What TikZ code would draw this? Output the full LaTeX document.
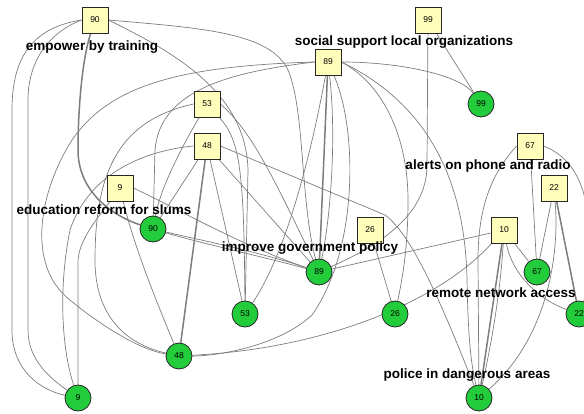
\documentclass[tikz,border=0pt]{standalone}
\usepackage{fontspec}
\setmainfont{Liberation Sans}
\definecolor{sqfill}{RGB}{255,255,187}
\definecolor{cifill}{RGB}{34,204,58}
\definecolor{edgec}{RGB}{125,125,125}
\pgfdeclarelayer{bg}\pgfsetlayers{bg,main}
\begin{document}
\begin{tikzpicture}[x=1pt,y=-1pt,
  sq/.style={draw=black!85, line width=0.8pt, fill=sqfill, minimum size=26pt, inner sep=0pt, font=\fontsize{8.5}{10}\selectfont},
  ci/.style={circle, draw=black!85, line width=0.8pt, fill=cifill, minimum size=26pt, inner sep=0pt, font=\fontsize{8.5}{10}\selectfont},
  lab/.style={font=\bfseries\fontsize{13.5}{15}\selectfont, inner sep=0pt},
  ed/.style={draw=edgec, line width=0.7pt},
  thk/.style={draw=edgec, line width=1.5pt}]
\useasboundingbox (0,0) rectangle (584,414);
% nodes (squares)
\node[sq] (s90) at (95,20) {90};
\node[sq] (s89) at (328,62) {89};
\node[sq] (s99) at (428,20) {99};
\node[sq] (s53) at (207,104) {53};
\node[sq] (s48) at (207,146) {48};
\node[sq] (s9) at (120,188) {9};
\node[sq] (s26) at (370,230) {26};
\node[sq] (s10) at (504,230) {10};
\node[sq] (s67) at (530,146) {67};
\node[sq] (s22) at (554,188) {22};
% nodes (circles)
\node[ci] (c99) at (481,104) {99};
\node[ci] (c90) at (153,229) {90};
\node[ci] (c89) at (319,272) {89};
\node[ci] (c53) at (245,314) {53};
\node[ci] (c26) at (395,314) {26};
\node[ci] (c67) at (537,272) {67};
\node[ci] (c22) at (579,314) {22};
\node[ci] (c48) at (179,356) {48};
\node[ci] (c9) at (78,398) {9};
\node[ci] (c10) at (479,398) {10};
\begin{pgfonlayer}{bg}
% S90
\draw[ed] (s90.west) .. controls (30,28) and (12,60) .. (12,110) -- (12,330) .. controls (12,370) and (40,390) .. (c9);
\draw[ed] (s90.west) .. controls (50,32) and (28,60) .. (28,100) -- (28,330) .. controls (28,360) and (50,378) .. (c9);
\draw[thk] (s90) .. controls (82,60) and (78,110) .. (78,150) .. controls (78,190) and (110,215) .. (c90);
\draw[ed] (s90.east) .. controls (200,28) and (270,32) .. (288,70) .. controls (305,110) and (300,200) .. (c89);
\draw[ed] (s90.east) .. controls (180,55) and (246,95) .. (248,170) -- (c53);
% S53
\draw[ed] (s53.west) .. controls (120,120) and (95,170) .. (95,260) .. controls (95,320) and (130,345) .. (c48);
\draw[ed] (s53) .. controls (240,140) and (244,170) .. (c53);
\draw[ed] (s53) .. controls (180,150) and (160,190) .. (c90);
\draw[ed] (s53.east) .. controls (250,130) and (270,170) .. (c89);
% S48
\draw[thk] (s48) -- (c48);
\draw[ed] (s48.west) .. controls (150,150) and (90,170) .. (70,230) .. controls (58,290) and (62,350) .. (c9);
\draw[ed] (s48) -- (c90);
\draw[ed] (s48) -- (c53);
\draw[ed] (s48) -- (c89);
\draw[ed] (s48.east) -- (385,215) .. controls (412,235) and (440,300) .. (c10);
% S9
\draw[ed] (s9) .. controls (100,215) and (78,240) .. (78,262) -- (c9);
\draw[ed] (s9) .. controls (135,250) and (160,310) .. (c48);
\draw[ed] (s9.east) .. controls (180,210) and (240,245) .. (c89);
\draw[ed] (c90) .. controls (200,240) and (260,252) .. (c89);
\draw[ed] (c90) .. controls (200,243) and (260,256) .. (c89);
% S89
\draw[thk] (s89) -- (c89);
\draw[ed] (s89) .. controls (337,140) and (330,220) .. (c89);
\draw[ed] (s89.east) .. controls (400,62) and (460,75) .. (c99);
\draw[ed] (s89.east) .. controls (385,85) and (408,140) .. (408,200) .. controls (408,250) and (402,280) .. (c26);
\draw[ed] (s89.east) .. controls (420,100) and (465,170) .. (467,280) .. controls (468,330) and (470,360) .. (c10);
\draw[ed] (s89) .. controls (310,160) and (285,255) .. (c53);
\draw[ed] (s89) .. controls (358,130) and (358,250) .. (312,315) .. controls (280,345) and (220,356) .. (c48);
\draw[ed] (s89.west) .. controls (180,66) and (110,85) .. (72,140) .. controls (40,190) and (25,265) .. (70,300) .. controls (100,325) and (140,350) .. (c48);
\draw[ed] (s89.west) .. controls (230,72) and (160,90) .. (155,150) -- (c90);
% S99
\draw[ed] (s99) -- (c99);
\draw[ed] (s99) -- (427,165) .. controls (427,215) and (380,245) .. (c89);
% S26
\draw[ed] (s26) -- (c26);
% S10
\draw[thk] (s10) -- (c10);
\draw[ed] (s10) .. controls (500,300) and (488,360) .. (c10);
\draw[ed] (s10) -- (c89);
\draw[ed] (s10) .. controls (440,300) and (330,348) .. (c48);
\draw[ed] (s10) -- (c67);
\draw[ed] (s10) .. controls (512,275) and (540,300) .. (c22);
% S67
\draw[ed] (s67) -- (c67);
\draw[ed] (s67.west) .. controls (490,175) and (478,210) .. (478,260) -- (c10);
\draw[ed] (s67.east) .. controls (580,160) and (590,200) .. (588,240) .. controls (586,280) and (586,295) .. (c22);
% S22
\draw[ed] (s22) -- (c67);
\draw[thk] (s22) -- (c22);
\draw[ed] (s22) .. controls (560,260) and (545,340) .. (c10);
\end{pgfonlayer}
% labels
\node[lab] (l1) at (92,47) {empower by training};
\node[lab] (l2) at (404,42) {social support local organizations};
\node[lab] (l3) at (488,166) {alerts on phone and radio};
\node[lab] (l4) at (104,210) {education reform for slums};
\node[lab] (l5) at (310,248) {improve government policy};
\node[lab] (l6) at (501,293) {remote network access};
\node[lab] (l7) at (467,375) {police in dangerous areas};
\end{tikzpicture}
\end{document}
